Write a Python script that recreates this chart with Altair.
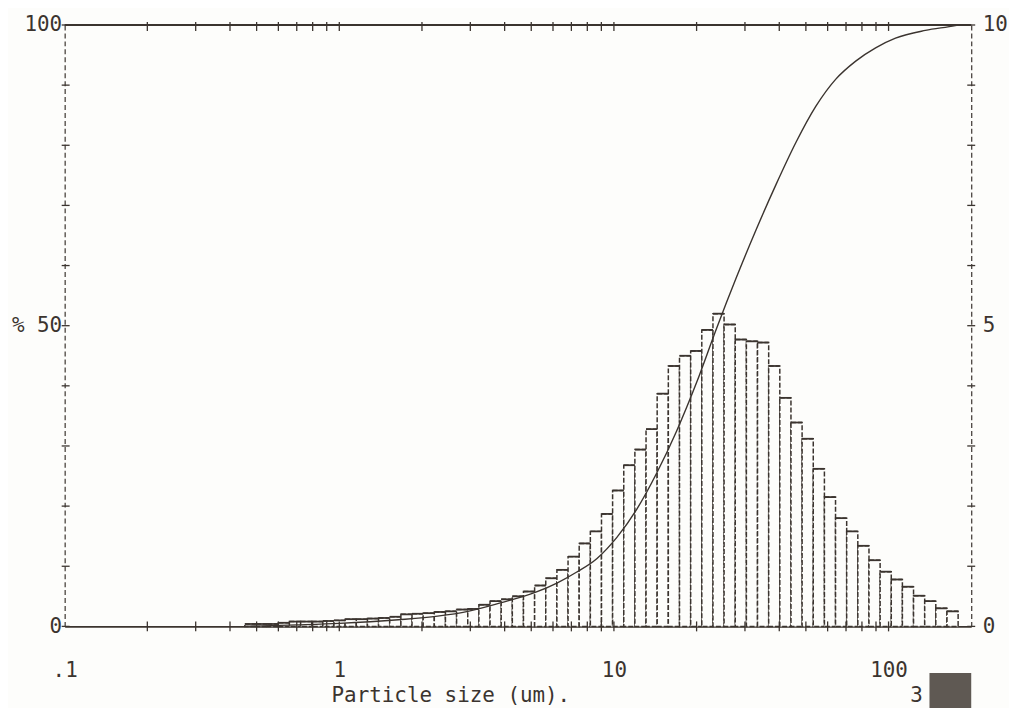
import altair as alt
import pandas as pd

# ---- data ----
# bin edges of the size classes (um)
edges = [0.453, 0.497, 0.546, 0.600, 0.658, 0.723, 0.794, 0.871, 0.956, 1.050,
         1.153, 1.266, 1.390, 1.526, 1.676, 1.840, 2.020, 2.218, 2.435, 2.674,
         2.936, 3.223, 3.539, 3.886, 4.266, 4.684, 5.143, 5.647, 6.200, 6.807,
         7.474, 8.206, 9.010, 9.890, 10.86, 11.92, 13.09, 14.37, 15.78, 17.33,
         19.03, 20.89, 22.94, 25.18, 27.65, 30.36, 33.33, 36.60, 40.18, 44.12,
         48.44, 53.19, 58.40, 64.11, 70.39, 77.28, 84.86, 93.17, 102.3, 112.3,
         123.3, 135.4, 148.6, 163.2, 179.2]
# frequency per class (right axis, 0-10)
freq = [0.04, 0.04, 0.04, 0.06, 0.08, 0.08, 0.08, 0.09, 0.10, 0.12,
        0.12, 0.13, 0.14, 0.16, 0.20, 0.21, 0.22, 0.24, 0.25, 0.28,
        0.29, 0.36, 0.42, 0.45, 0.50, 0.58, 0.68, 0.80, 0.94, 1.16,
        1.38, 1.58, 1.87, 2.26, 2.68, 2.94, 3.28, 3.87, 4.33, 4.50,
        4.58, 4.93, 5.20, 5.02, 4.77, 4.74, 4.72, 4.33, 3.80, 3.39,
        3.12, 2.62, 2.15, 1.80, 1.58, 1.34, 1.10, 0.91, 0.78, 0.66,
        0.51, 0.42, 0.30, 0.25]
# cumulative undersize curve (left axis, %)
cum_size = [0.45, 0.7, 1.0, 1.64, 2.28, 2.94, 3.86, 5.14, 6.2, 7.3,
            8.68, 10.25, 12.12, 14.32, 16.92, 19.98, 23.62, 27.91, 32.97, 38.95,
            46.03, 54.39, 64.27, 75.93, 89.73, 106.0, 136.2, 174.9, 179.2]
cum_pct = [0, 0.25, 0.5, 1.1, 1.7, 2.5, 3.9, 5.6, 7.2, 9.0,
           11.3, 14.8, 19.5, 25.5, 32.5, 40.5, 49.5, 58.0, 66.0, 73.5,
           80.5, 86.5, 91.0, 94.0, 96.2, 97.8, 99.1, 99.9, 100]
# axis ticks
x_ticks = [0.2, 0.3, 0.4, 0.5, 0.6, 0.7, 0.8, 0.9, 1, 2, 3, 4, 5, 6, 7, 8, 9,
           10, 20, 30, 40, 50, 60, 70, 80, 90, 100]
x_labels = [0.1, 1, 10, 100]
pct_ticks = [0, 10, 20, 30, 40, 50, 60, 70, 80, 90, 100]
left_labels = [0, 50, 100]
right_labels = [0, 5, 10]
page_no = "3"

# ---- styling ----
INK = "#3b342f"
BG = "#fdfdfb"
FONT = "DejaVu Sans Mono"
W, H = 912, 605

bars_df = pd.DataFrame({"lo": edges[:-1], "hi": edges[1:], "freq": freq})
cum_df = pd.DataFrame({"size": cum_size, "pct": cum_pct})
xt_df = pd.DataFrame({"tick": x_ticks})
yt_df = pd.DataFrame({"t": pct_ticks})
one = pd.DataFrame({"a": [0]})

xscale = alt.Scale(type="log", domain=[0.1, 200], nice=False)
xaxis = alt.Axis(
    values=x_labels,
    labelExpr="datum.value < 0.5 ? '.1' : format(datum.value, 'd')",
    ticks=False, tickSize=0, grid=False,
    domainColor=INK, domainWidth=1.8,
    labelFont=FONT, labelFontSize=21, labelColor=INK, labelPadding=33,
    labelFlush=False, labelOverlap=False,
    title="Particle size (um).", titleFont=FONT, titleFontSize=21,
    titleFontWeight="normal", titleColor=INK, titleAlign="left",
    titleAnchor="start", titleX=268, titleY=59, titleBaseline="top",
)
fscale = alt.Scale(domain=[0, 10], nice=False, zero=True)
faxis = alt.Axis(
    orient="right", values=right_labels, format="d",
    ticks=False, tickSize=0, grid=False,
    domainColor=INK, domainWidth=1.2, domainDash=[5, 3],
    labelFont=FONT, labelFontSize=21, labelColor=INK, labelPadding=11,
    labelBaseline="middle", title="",
)
pscale = alt.Scale(domain=[0, 100], nice=False, zero=True)
paxis = alt.Axis(
    orient="left", values=left_labels,
    labelExpr="datum.value == 50 ? '% 50' : format(datum.value, 'd')",
    ticks=False, tickSize=0, grid=False,
    domainColor=INK, domainWidth=1.2, domainDash=[5, 3],
    labelFont=FONT, labelFontSize=21, labelColor=INK, labelPadding=3,
    labelBaseline="middle", title="",
)

bars = alt.Chart(bars_df).mark_rect(
    fill=BG, stroke=INK, strokeWidth=1.5, strokeDash=[5, 2]
).encode(
    x=alt.X("lo:Q", scale=xscale, axis=xaxis),
    x2="hi:Q",
    y=alt.Y("freq:Q", scale=fscale, axis=faxis),
    y2=alt.datum(0),
)
tops = alt.Chart(bars_df).mark_rule(color=INK, strokeWidth=1.8).encode(
    x=alt.X("lo:Q", scale=xscale, axis=xaxis),
    x2="hi:Q",
    y=alt.Y("freq:Q", scale=fscale, axis=faxis),
)
freq_layer = alt.layer(bars, tops)

curve = alt.Chart(cum_df).mark_line(
    color=INK, strokeWidth=1.4, interpolate="monotone"
).encode(
    x=alt.X("size:Q", scale=xscale, axis=xaxis),
    y=alt.Y("pct:Q", scale=pscale, axis=paxis),
)
lticks = alt.Chart(yt_df).mark_rule(color=INK, strokeWidth=1.3).encode(
    y=alt.Y("t:Q", scale=pscale, axis=paxis),
    x=alt.value(-3), x2=alt.value(5),
)
rticks = alt.Chart(yt_df).mark_rule(color=INK, strokeWidth=1.3).encode(
    y=alt.Y("t:Q", scale=pscale, axis=paxis),
    x=alt.value(W - 4), x2=alt.value(W + 4),
)
bticks = alt.Chart(xt_df).mark_rule(color=INK, strokeWidth=1.3).encode(
    x=alt.X("tick:Q", scale=xscale, axis=xaxis),
    y=alt.value(H - 5), y2=alt.value(H + 5),
)
tticks = alt.Chart(xt_df).mark_rule(color=INK, strokeWidth=1.3).encode(
    x=alt.X("tick:Q", scale=xscale, axis=xaxis),
    y=alt.value(-3), y2=alt.value(6),
)
topline = alt.Chart(one).mark_rule(color=INK, strokeWidth=1.8).encode(
    x=alt.value(0), x2=alt.value(W), y=alt.value(0)
)
pnum = alt.Chart(one).mark_text(
    font=FONT, fontSize=21, color=INK, align="center", baseline="middle"
).encode(x=alt.value(857), y=alt.value(H + 70), text=alt.value(page_no))
blot = alt.Chart(one).mark_rect(color="#5f5953").encode(
    x=alt.value(870), x2=alt.value(912), y=alt.value(H + 47), y2=alt.value(H + 90)
)
pct_layer = alt.layer(curve, lticks, rticks, bticks, tticks, topline, pnum, blot)

chart = alt.layer(freq_layer, pct_layer).resolve_scale(y="independent").properties(
    width=W, height=H,
    padding={"left": 57, "top": 15, "right": 38, "bottom": 80},
    autosize=alt.AutoSizeParams(type="none"),
    background=BG,
).configure_view(strokeWidth=0)

chart.save("out.html", embed_options={"renderer": "svg", "actions": False})
